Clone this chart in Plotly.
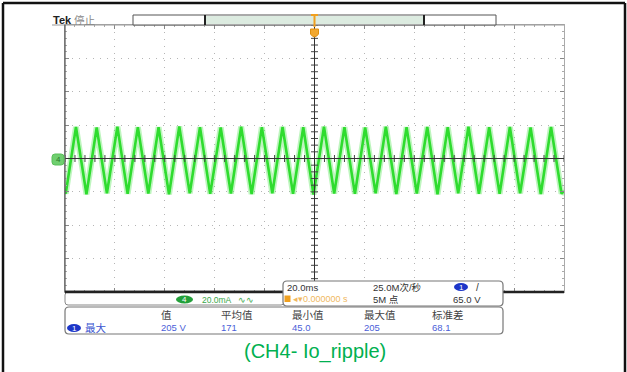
import numpy as np
import plotly.graph_objects as go

W, H = 627, 372

# ---- CH4 ripple current, turning points of the trace (time in ms, current in mA) ----
trough_times = [0.3, 8.6, 16.8, 25.1, 33.4, 41.7, 50.0, 58.2, 66.5, 74.8, 83.1, 91.4,
                99.6, 107.9, 116.2, 124.5, 132.8, 141.0, 149.3, 157.6, 165.9, 174.2,
                182.4, 190.7, 199.0]
trough_vals = [-21.0, -21.4, -20.8, -21.2, -21.0, -21.5, -20.9, -21.2, -21.0, -21.3, -20.8,
               -21.1, -21.6, -21.0, -21.2, -20.9, -21.3, -21.0, -21.4, -20.9, -21.1,
               -21.2, -20.8, -21.3, -21.0]
peak_times = [4.4, 12.7, 21.0, 29.2, 37.5, 45.8, 54.1, 62.4, 70.6, 78.9, 87.2, 95.5,
              103.8, 112.0, 120.3, 128.6, 136.9, 145.2, 153.4, 161.7, 170.0, 178.3,
              186.6, 194.8]
peak_vals = [18.9, 18.6, 19.1, 18.8, 18.7, 19.2, 18.8, 18.6, 19.0, 18.8, 18.9, 18.7,
             19.1, 18.8, 18.6, 19.0, 18.8, 18.9, 18.7, 19.1, 18.8, 18.9, 18.6, 18.9]
edge_times = [0.0, 200.0]
edge_vals = [-19.8, -19.6]

# ---- measurement readout ----
meas_headers = ["值", "平均值", "最小值", "最大值", "标准差"]
meas_values = ["205 V", "171", "45.0", "205", "68.1"]
meas_x = [159, 219, 290, 362, 430]

# ---- scale / acquisition settings ----
ch_scale = "20.0mA"
time_scale = "20.0ms"
trig_pos = "0.000000 s"
sample_rate = "25.0M次/秒"
record_len = "5M 点"
trig_level = "65.0 V"
caption = "(CH4- Io_ripple)"

FONT = "Liberation Sans, Noto Sans CJK SC, sans-serif"
GREEN = "#2fdc2f"


def X(px):
    return px / W


def Y(py):
    return 1 - py / H


def rrect(x0, y0, x1, y1, r):
    return (f"M {X(x0 + r)},{Y(y0)} L {X(x1 - r)},{Y(y0)} Q {X(x1)},{Y(y0)} {X(x1)},{Y(y0 + r)} "
            f"L {X(x1)},{Y(y1 - r)} Q {X(x1)},{Y(y1)} {X(x1 - r)},{Y(y1)} "
            f"L {X(x0 + r)},{Y(y1)} Q {X(x0)},{Y(y1)} {X(x0)},{Y(y1 - r)} "
            f"L {X(x0)},{Y(y0 + r)} Q {X(x0)},{Y(y0)} {X(x0 + r)},{Y(y0)} Z")


# merge vertices in time order
pts = sorted(zip(trough_times + peak_times + edge_times, trough_vals + peak_vals + edge_vals))
t = [p[0] for p in pts]
v = [p[1] for p in pts]

# screen graticule box (pixels)
GX0, GX1, GY0, GY1 = 65, 564, 25, 292

fig = go.Figure()
fig.add_trace(go.Scatter(x=t, y=v, mode="lines", line=dict(color="rgba(70,225,70,0.35)", width=6),
                         hoverinfo="skip", showlegend=False))
fig.add_trace(go.Scatter(x=t, y=v, mode="lines", line=dict(color=GREEN, width=2.6),
                         showlegend=False))

# crosshair tick marks (1/5 division)
xt = np.arange(0, 201, 4)
yt = np.arange(-80, 81, 4)
fig.add_trace(go.Scatter(x=xt, y=np.zeros_like(xt), mode="markers", hoverinfo="skip",
                         marker=dict(symbol="line-ns", size=5, line=dict(color="#444", width=1)),
                         showlegend=False))
fig.add_trace(go.Scatter(x=np.full_like(yt, 100), y=yt, mode="markers", hoverinfo="skip",
                         marker=dict(symbol="line-ew", size=5, line=dict(color="#444", width=1)),
                         showlegend=False))

shapes = []
annos = []

# crosshair lines
shapes.append(dict(type="line", xref="x", yref="y", x0=0, x1=200, y0=0, y1=0,
                   line=dict(color="#333", width=1)))
shapes.append(dict(type="line", xref="x", yref="y", x0=100, x1=100, y0=-80, y1=80,
                   line=dict(color="#333", width=1)))

# frame: top line extends under the "Tek" label, thick bottom line
shapes.append(dict(type="line", xref="paper", yref="paper", x0=X(52), x1=X(GX1), y0=Y(GY0), y1=Y(GY0),
                   line=dict(color="#999", width=1)))
shapes.append(dict(type="line", xref="paper", yref="paper", x0=X(GX0), x1=X(GX0), y0=Y(GY0), y1=Y(GY1),
                   line=dict(color="#555", width=1.2)))
shapes.append(dict(type="line", xref="paper", yref="paper", x0=X(GX0), x1=X(GX1), y0=Y(GY1), y1=Y(GY1),
                   line=dict(color="#222", width=2.5)))

# record bar at the top
shapes.append(dict(type="rect", xref="paper", yref="paper", x0=X(133), x1=X(496), y0=Y(15), y1=Y(25),
                   fillcolor="white", line=dict(color="#555", width=1)))
shapes.append(dict(type="rect", xref="paper", yref="paper", x0=X(205), x1=X(424), y0=Y(16), y1=Y(24),
                   fillcolor="#dcebe0", line=dict(width=0)))
for sx in (205, 424):
    shapes.append(dict(type="line", xref="paper", yref="paper", x0=X(sx), x1=X(sx), y0=Y(15), y1=Y(25),
                       line=dict(color="#222", width=2)))

# trigger position marker
shapes.append(dict(type="line", xref="paper", yref="paper", x0=X(314.5), x1=X(314.5), y0=Y(14), y1=Y(27),
                   line=dict(color="#f0a020", width=2)))
shapes.append(dict(type="line", xref="paper", yref="paper", x0=X(311), x1=X(318), y0=Y(15), y1=Y(15),
                   line=dict(color="#f0a020", width=2)))
shapes.append(dict(type="path", xref="paper", yref="paper",
                   path=f"M {X(310.5)},{Y(29)} L {X(318.5)},{Y(29)} L {X(318.5)},{Y(34)} "
                        f"Q {X(314.5)},{Y(40)} {X(310.5)},{Y(34)} Z",
                   fillcolor="#f2a830", line=dict(color="#e09010", width=1)))

# channel 4 ground marker
shapes.append(dict(type="path", xref="paper", yref="paper", path=rrect(52, 154, 64, 165, 3),
                   fillcolor="#6fcf6f", line=dict(color="#5bbf5b", width=1)))
annos.append(dict(x=X(58), y=Y(159.5), text="4", font=dict(size=8, color="#2a7a2a", family=FONT)))

# channel settings bar
shapes.append(dict(type="path", xref="paper", yref="paper", path=rrect(65, 292, 284, 305, 3),
                   fillcolor="white", line=dict(color="#888", width=1)))
shapes.append(dict(type="line", xref="paper", yref="paper", x0=X(65), x1=X(284), y0=Y(292), y1=Y(292),
                   line=dict(color="#222", width=2.5)))
shapes.append(dict(type="circle", xref="paper", yref="paper", x0=X(176), x1=X(193), y0=Y(303.5), y1=Y(295.5),
                   fillcolor="#23a03a", line=dict(width=0)))
annos.append(dict(x=X(184.5), y=Y(299.5), text="4", font=dict(size=8, color="white", family=FONT)))
annos.append(dict(x=X(200), y=Y(299.5), text=ch_scale, xanchor="left",
                  font=dict(size=8.5, color="#3aa84a", family=FONT)))
annos.append(dict(x=X(236), y=Y(299.5), text="∿∿", xanchor="left",
                  font=dict(size=8.5, color="#3aa84a", family=FONT)))

# timebase panel
shapes.append(dict(type="path", xref="paper", yref="paper", path=rrect(283, 281, 503, 306, 4),
                   fillcolor="white", line=dict(color="#777", width=1.2)))
annos.append(dict(x=X(285), y=Y(287), text=time_scale, xanchor="left",
                  font=dict(size=9.5, color="#333", family=FONT)))
shapes.append(dict(type="rect", xref="paper", yref="paper", x0=X(284.5), x1=X(290.5), y0=Y(302), y1=Y(295.5),
                   fillcolor="#f0a020", line=dict(width=0)))
annos.append(dict(x=X(291), y=Y(299), text="◂▾" + trig_pos, xanchor="left",
                  font=dict(size=9, color="#f0b860", family=FONT)))
annos.append(dict(x=X(371), y=Y(287), text=sample_rate, xanchor="left",
                  font=dict(size=9.5, color="#333", family=FONT)))
annos.append(dict(x=X(371), y=Y(299.5), text=record_len, xanchor="left",
                  font=dict(size=9.5, color="#333", family=FONT)))
shapes.append(dict(type="circle", xref="paper", yref="paper", x0=X(454), x1=X(468), y0=Y(291), y1=Y(283),
                   fillcolor="#1d36c8", line=dict(width=0)))
annos.append(dict(x=X(461), y=Y(287), text="1", font=dict(size=8, color="white", family=FONT)))
annos.append(dict(x=X(474), y=Y(287), text="/", xanchor="left",
                  font=dict(size=10, color="#333", family=FONT)))
annos.append(dict(x=X(451), y=Y(299.5), text=trig_level, xanchor="left",
                  font=dict(size=9.5, color="#333", family=FONT)))

# measurement panel
shapes.append(dict(type="path", xref="paper", yref="paper", path=rrect(65, 307, 503, 334, 4),
                   fillcolor="white", line=dict(color="#777", width=1.2)))
for hx, hdr, val in zip(meas_x, meas_headers, meas_values):
    annos.append(dict(x=X(hx), y=Y(315), text=hdr, xanchor="left",
                      font=dict(size=10.5, color="#444", family=FONT)))
    annos.append(dict(x=X(hx), y=Y(327), text=val, xanchor="left",
                      font=dict(size=9.5, color="#4a60d8", family=FONT)))
shapes.append(dict(type="circle", xref="paper", yref="paper", x0=X(67), x1=X(81), y0=Y(332), y1=Y(324),
                   fillcolor="#1d36c8", line=dict(width=0)))
annos.append(dict(x=X(74), y=Y(328), text="1", font=dict(size=8, color="white", family=FONT)))
annos.append(dict(x=X(83), y=Y(327.5), text="最大", xanchor="left",
                  font=dict(size=10.5, color="#3a55d0", family=FONT)))

# header label
annos.append(dict(x=X(51), y=Y(20), xanchor="left", text="<b>Tek</b>",
                  font=dict(size=11, color="#222", family=FONT)))
annos.append(dict(x=X(72), y=Y(20), xanchor="left", text="停止",
                  font=dict(size=10.5, color="#888", family=FONT)))

# caption
annos.append(dict(x=X(314.5), y=Y(351), text=caption,
                  font=dict(size=20, color="#00b050", family=FONT)))

# outer cell border
for x0, y0, x1, y1 in ((3, 3, 3, 372), (3, 3, 625, 3), (625, 3, 625, 372)):
    shapes.append(dict(type="line", xref="paper", yref="paper", x0=X(x0), x1=X(x1), y0=Y(y0), y1=Y(y1),
                       line=dict(color="#111", width=2.5)))

for a in annos:
    a.setdefault("xref", "paper")
    a.setdefault("yref", "paper")
    a.setdefault("showarrow", False)
    a.setdefault("xanchor", "center")
    a.setdefault("yanchor", "middle")

axis_common = dict(showticklabels=False, showgrid=True, gridcolor="#b5b5b5", griddash="1px,6px",
                   gridwidth=1, zeroline=False, ticks="inside", ticklen=4, tickcolor="#888",
                   showline=True, linecolor="#aaa", mirror="ticks", fixedrange=True)

fig.update_layout(
    width=W, height=H, margin=dict(l=0, r=0, t=0, b=0),
    paper_bgcolor="white", plot_bgcolor="white",
    xaxis=dict(range=[0, 200], dtick=20, domain=[X(GX0), X(GX1)],
               minor=dict(dtick=4, ticks="inside", ticklen=2, tickcolor="#aaa"), **axis_common),
    yaxis=dict(range=[-80, 80], dtick=20, domain=[Y(GY1), Y(GY0)],
               minor=dict(dtick=4, ticks="inside", ticklen=2, tickcolor="#aaa"), **axis_common),
    shapes=shapes, annotations=annos, font=dict(family=FONT),
)

fig.write_html("out.html")
